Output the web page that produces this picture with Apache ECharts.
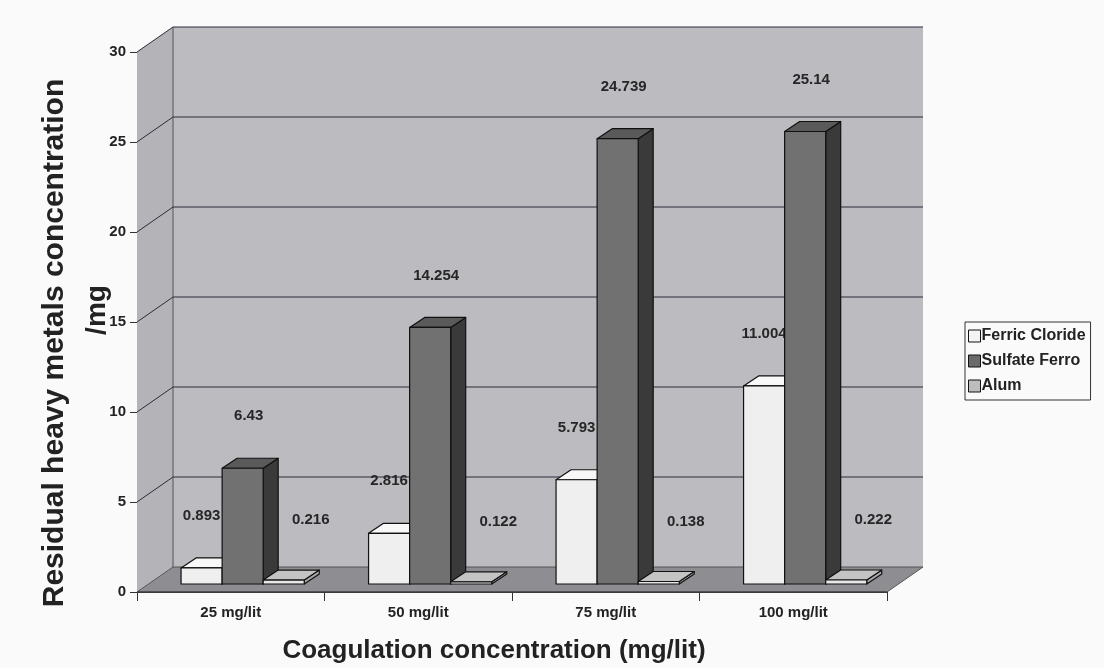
<!DOCTYPE html>
<html>
<head>
<meta charset="utf-8">
<script src="https://cdn.jsdelivr.net/npm/echarts@6/dist/echarts.min.js"></script>
<style>
html,body{margin:0;padding:0;background:#fafafa;}
#chart{width:1104px;height:668px;}
</style>
</head>
<body>
<div id="chart"></div>
<script>
// ---- data ----
const categories = ['25 mg/lit', '50 mg/lit', '75 mg/lit', '100 mg/lit'];
const seriesNames = ['Ferric Cloride', 'Sulfate Ferro', 'Alum'];
const ferricCloride = [0.893, 2.816, 5.793, 11.004];
const sulfateFerro = [6.43, 14.254, 24.739, 25.14];
const alum = [0.216, 0.122, 0.138, 0.222];
const yMin = 0, yMax = 30, yStep = 5;

// ---- styling / layout ----
const FONT = 'Liberation Sans, Arial, sans-serif';
const WALL_DX = 36, WALL_DY = -25;   // depth of the 3D box
const BAR_DX = 12, BAR_DY = -8;      // bars sit part-way into the depth
const TOP_DX = 15, TOP_DY = -10;     // depth of each bar
const GAP_FRAC = 0.171, BAR_FRAC = 0.219;
const barStyles = [
  { front: '#efefef', top: '#f8f8f8', side: '#cfcfcf', legend: '#f4f4f4', lift: 52, dx: 0 },
  { front: '#717171', top: '#5a5a5a', side: '#3a3a3a', legend: '#6a6a6a', lift: 52, dx: 6 },
  { front: '#e8e8e8', top: '#c4c4c4', side: '#a8a8a8', legend: '#bdbdbd', lift: 60, dx: 27 }
];
const seriesValues = [ferricCloride, sulfateFerro, alum];

function wallsRender(params, api) {
  const cs = params.coordSys;
  const x0 = cs.x, x1 = cs.x + cs.width;
  const yb = api.coord([0, yMin])[1];
  const yt = api.coord([0, yMax])[1];
  const children = [];
  children.push({ type: 'polygon', shape: { points: [[x0, yt], [x0 + WALL_DX, yt + WALL_DY], [x0 + WALL_DX, yb + WALL_DY], [x0, yb]] },
    style: { fill: '#b3b3b8', stroke: null } });
  children.push({ type: 'rect', shape: { x: x0 + WALL_DX, y: yt + WALL_DY, width: cs.width, height: yb - yt } ,
    style: { fill: '#bbbbc0', stroke: null } });
  children.push({ type: 'polygon', shape: { points: [[x0, yb], [x0 + WALL_DX, yb + WALL_DY], [x1 + WALL_DX, yb + WALL_DY], [x1, yb]] },
    style: { fill: '#8e8e92', stroke: '#555', lineWidth: 1 } });
  children.push({ type: 'line', shape: { x1: x0 + WALL_DX, y1: yt + WALL_DY, x2: x0 + WALL_DX, y2: yb + WALL_DY },
    style: { stroke: '#555', lineWidth: 1 } });
  for (let v = yMin + yStep; v <= yMax; v += yStep) {
    const y = api.coord([0, v])[1];
    children.push({ type: 'polyline', shape: { points: [[x0, y], [x0 + WALL_DX, y + WALL_DY], [x1 + WALL_DX, y + WALL_DY]] },
      style: { stroke: '#2c2c3c', lineWidth: 1, fill: null } });
  }
  children.push({ type: 'line', shape: { x1: x0, y1: yb, x2: x1, y2: yb }, style: { stroke: '#333', lineWidth: 1 } });
  return { type: 'group', children };
}

function makeBarRender(s) {
  return function (params, api) {
    const i = api.value(0), v = api.value(1);
    const bandW = api.size([1, 0])[0];
    const c = api.coord([i, v]);
    const base = api.coord([i, 0])[1] + BAR_DY;
    const top = c[1] + BAR_DY;
    const start = c[0] - bandW / 2;
    const bw = bandW * BAR_FRAC;
    const x0 = start + bandW * GAP_FRAC + s * bw + BAR_DX;
    const x1 = x0 + bw;
    const st = barStyles[s];
    const stroke = { stroke: '#111', lineWidth: 1.2, lineJoin: 'round' };
    return {
      type: 'group',
      children: [
        { type: 'polygon', shape: { points: [[x1, top], [x1 + TOP_DX, top + TOP_DY], [x1 + TOP_DX, base + TOP_DY], [x1, base]] },
          style: Object.assign({ fill: st.side }, stroke) },
        { type: 'polygon', shape: { points: [[x0, top], [x0 + TOP_DX, top + TOP_DY], [x1 + TOP_DX, top + TOP_DY], [x1, top]] },
          style: Object.assign({ fill: st.top }, stroke) },
        { type: 'rect', shape: { x: x0, y: top, width: bw, height: base - top },
          style: Object.assign({ fill: st.front }, stroke) },
        { type: 'text', z2: 100, style: { text: String(v), x: (x0 + x1) / 2 + st.dx, y: top - st.lift,
          textAlign: 'center', textVerticalAlign: 'middle', font: 'bold 15px ' + FONT, fill: '#262626' } }
      ]
    };
  };
}

const series = [{
  type: 'custom', name: '_walls', renderItem: wallsRender, data: [[0, 0]], silent: true, clip: false, z: 1
}];
seriesNames.forEach((name, s) => {
  series.push({
    type: 'custom', name: name, renderItem: makeBarRender(s), clip: false, z: 2 + s,
    itemStyle: { color: barStyles[s].legend },
    data: seriesValues[s].map((v, i) => [i, v])
  });
});

const chart = echarts.init(document.getElementById('chart'), null, { renderer: 'canvas' });
chart.setOption({
  animation: false,
  backgroundColor: '#fafafa',
  grid: { left: 137, right: 217, top: 52, bottom: 76 },
  xAxis: {
    type: 'category', data: categories, boundaryGap: true,
    axisLine: { show: true, lineStyle: { color: '#333' } },
    axisTick: { show: true, length: 9, inside: false, alignWithLabel: false, lineStyle: { color: '#333' } },
    axisLabel: { margin: 13, color: '#222', fontFamily: FONT, fontWeight: 'bold', fontSize: 15 },
    splitLine: { show: false }
  },
  yAxis: {
    type: 'value', min: yMin, max: yMax, interval: yStep,
    axisLine: { show: true, lineStyle: { color: '#333' } },
    axisTick: { show: true, length: 7, lineStyle: { color: '#333' } },
    axisLabel: { margin: 11, color: '#222', fontFamily: FONT, fontWeight: 'bold', fontSize: 15 },
    splitLine: { show: false }
  },
  legend: {
    data: seriesNames, orient: 'vertical', left: 965, top: 322,
    itemWidth: 12, itemHeight: 12, itemGap: 9, icon: 'rect',
    itemStyle: { borderColor: '#111', borderWidth: 1 },
    borderColor: '#333', borderWidth: 1, padding: [6, 5, 6, 3],
    textStyle: { fontFamily: FONT, fontWeight: 'bold', fontSize: 16, color: '#222', padding: [0, 0, 0, -4] }
  },
  graphic: [
    { type: 'text', x: 494, y: 651, style: { text: 'Coagulation concentration (mg/lit)', font: 'bold 26px ' + FONT, fill: '#222',
      textAlign: 'center', textVerticalAlign: 'middle' } },
    { type: 'text', rotation: Math.PI / 2, x: 55, y: 343, style: { text: 'Residual heavy metals concentration',
      font: 'bold 30px ' + FONT, fill: '#222', textAlign: 'center', textVerticalAlign: 'middle' } },
    { type: 'text', rotation: Math.PI / 2, x: 97, y: 310, style: { text: '/mg',
      font: 'bold 28px ' + FONT, fill: '#222', textAlign: 'center', textVerticalAlign: 'middle' } }
  ],
  series: series
});
</script>
</body>
</html>
